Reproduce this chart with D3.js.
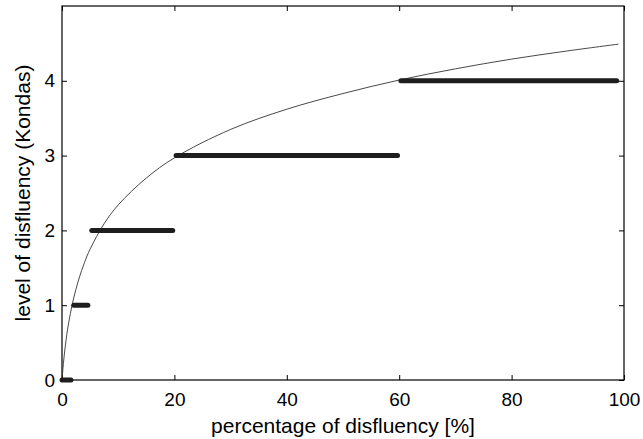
<!DOCTYPE html>
<html>
<head>
<meta charset="utf-8">
<script src="https://cdn.jsdelivr.net/npm/d3@7"></script>
<style>
  body { margin: 0; background: #fff; }
  svg { display: block; font-family: "Liberation Sans", Arial, sans-serif; }
</style>
</head>
<body>
<svg></svg>
<script>
// steps: level of disfluency over a percentage range
let levels = [0, 1, 2, 3, 4]
let stepStart = [0, 2.1, 5.3, 20.3, 60.3]
let stepEnd = [1.6, 4.6, 19.7, 59.7, 98.7]

// thin fitted curve
let curveX = [0, 0.1, 0.25, 0.5, 1, 1.5, 2, 3, 4, 5, 7.5, 10, 15, 20, 30, 40, 50, 60, 70, 80, 90, 99]
let curveY = [0, 0.09, 0.22, 0.40, 0.68, 0.89, 1.07, 1.35, 1.57, 1.75, 2.09, 2.34, 2.70, 2.97, 3.35, 3.62, 3.83, 4.01, 4.16, 4.29, 4.40, 4.49]

let xTicks = [0, 20, 40, 60, 80, 100]
let yTicks = [0, 1, 2, 3, 4]

let width = 643
let height = 439
let margin = {top: 6, right: 19, bottom: 59, left: 62}
let innerW = width - margin.left - margin.right
let innerH = height - margin.top - margin.bottom

let svg = d3.select('svg')
  .attr('width', width)
  .attr('height', height)

let g = svg.append('g')
  .attr('transform', 'translate(' + margin.left + ',' + margin.top + ')')

let xScale = d3.scaleLinear().domain([0, 100]).range([0, innerW])
let yScale = d3.scaleLinear().domain([0, 5]).range([innerH, 0])

// box
g.append('rect')
  .attr('width', innerW)
  .attr('height', innerH)
  .attr('fill', 'none')
  .attr('stroke', '#000')
  .attr('stroke-width', 1.2)

// axes with inward ticks
let styleAxis = (sel) => {
  sel.select('.domain').remove()
  sel.selectAll('.tick line').attr('stroke', '#000').attr('stroke-width', 1)
  sel.selectAll('.tick text').attr('font-size', 19).attr('fill', '#000')
    .attr('font-family', '"Liberation Sans", Arial, sans-serif')
}

g.append('g')
  .attr('transform', 'translate(0,' + innerH + ')')
  .call(d3.axisBottom(xScale).tickValues(xTicks).tickSize(-5).tickPadding(13).tickFormat(d3.format('d')))
  .call(styleAxis)

g.append('g')
  .call(d3.axisTop(xScale).tickValues(xTicks).tickSize(-5).tickFormat(''))
  .call(styleAxis)

g.append('g')
  .call(d3.axisLeft(yScale).tickValues(yTicks).tickSize(-5).tickPadding(7).tickFormat(d3.format('d')))
  .call(styleAxis)

g.append('g')
  .attr('transform', 'translate(' + innerW + ',0)')
  .call(d3.axisRight(yScale).tickValues(yTicks).tickSize(-5).tickFormat(''))
  .call(styleAxis)

// curve
let curvePts = curveX.map((x, i) => [x, curveY[i]])
let line = d3.line()
  .x(d => xScale(d[0]))
  .y(d => yScale(d[1]))
  .curve(d3.curveCatmullRom.alpha(0.5))

g.append('path')
  .datum(curvePts)
  .attr('d', line)
  .attr('fill', 'none')
  .attr('stroke', '#333')
  .attr('stroke-width', 0.9)

// thick steps
g.selectAll('line.step')
  .data(levels)
  .enter()
  .append('line')
  .attr('class', 'step')
  .attr('x1', (d, i) => xScale(stepStart[i]))
  .attr('x2', (d, i) => xScale(stepEnd[i]))
  .attr('y1', d => yScale(d))
  .attr('y2', d => yScale(d))
  .attr('stroke', '#1e1e1e')
  .attr('stroke-width', 5)
  .attr('stroke-linecap', 'round')

// axis labels
svg.append('text')
  .attr('x', margin.left + innerW / 2)
  .attr('y', 433)
  .attr('text-anchor', 'middle')
  .attr('font-size', 21)
  .text('percentage of disfluency [%]')

svg.append('text')
  .attr('transform', 'translate(30,' + (margin.top + innerH / 2) + ') rotate(-90)')
  .attr('text-anchor', 'middle')
  .attr('font-size', 21)
  .text('level of disfluency (Kondas)')
</script>
</body>
</html>
